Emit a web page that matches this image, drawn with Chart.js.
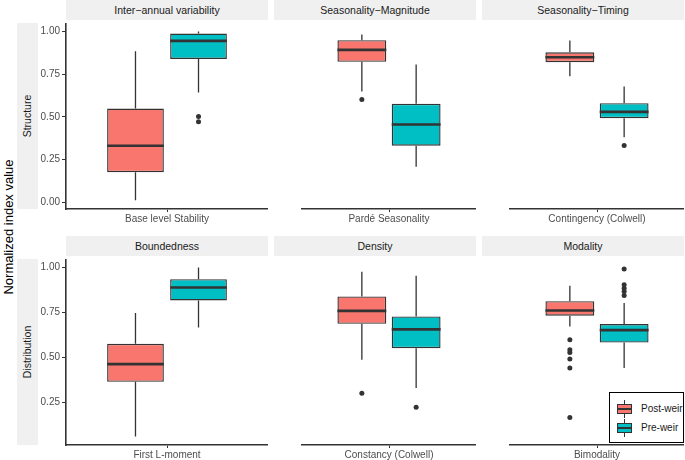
<!DOCTYPE html>
<html>
<head>
<meta charset="utf-8">
<script src="https://cdn.jsdelivr.net/npm/chart.js@4/dist/chart.umd.min.js"></script>
<style>
  html, body { margin: 0; padding: 0; background: #fff; }
  body { width: 685px; height: 460px; position: relative; overflow: hidden;
         font-family: 'Liberation Sans', Arial, sans-serif; }
  .abs { position: absolute; }
  .strip { position: absolute; background: #f0f0f0; color: #1a1a1a; font-size: 10.5px;
           display: flex; align-items: center; justify-content: center; white-space: nowrap; }
  .rstrip span { transform: rotate(-90deg); display: block; }
  canvas { position: absolute; }
  #ytitle { position: absolute; left: 8px; top: 227px; transform: translate(-50%, -50%) rotate(-90deg);
            font-size: 13px; color: #000; white-space: nowrap; }
  #legend { position: absolute; left: 609px; top: 392px; width: 73px; height: 49px;
            border: 1px solid #000; background: #fff; }
  .key { position: absolute; left: 7px; width: 15px; height: 18px; }
  .key .wh { position: absolute; left: 7px; width: 1px; top: 0; height: 18px; background: #333; }
  .key .bx { position: absolute; left: 0; top: 4px; width: 13px; height: 8px; border: 1px solid #333; }
  .key .md { position: absolute; left: 0; top: 8px; width: 15px; height: 2px; background: #333; }
  .ltxt { position: absolute; left: 31px; font-size: 10px; color: #1a1a1a; white-space: nowrap; }
</style>
</head>
<body>
<div id="ytitle">Normalized index value</div>
<div id="legend"></div>
<script>
// ---------------- data ----------------
const panelTitles = ['Inter\u2212annual variability', 'Seasonality\u2212Magnitude', 'Seasonality\u2212Timing',
                     'Boundedness', 'Density', 'Modality'];
const rowLabels = ['Structure', 'Distribution'];
const indexLabels = ['Base level Stability', 'Pard\u00e9 Seasonality', 'Contingency (Colwell)',
                     'First L-moment', 'Constancy (Colwell)', 'Bimodality'];
const seriesNames = ['Post-weir', 'Pre-weir'];
const seriesColors = ['#F8766D', '#00BFC4'];
// five-number summaries per panel: [lower whisker, Q1, median, Q3, upper whisker]
const postWeirStats = [
  [0.012, 0.176, 0.331, 0.549, 0.884],
  [0.649, 0.822, 0.892, 0.949, 0.982],
  [0.737, 0.820, 0.849, 0.878, 0.947],
  [0.061, 0.365, 0.463, 0.576, 0.747],
  [0.487, 0.687, 0.759, 0.839, 0.976],
  [0.672, 0.732, 0.761, 0.813, 0.898]
];
const preWeirStats = [
  [0.643, 0.839, 0.945, 0.988, 1.000],
  [0.208, 0.331, 0.455, 0.576, 0.806],
  [0.380, 0.492, 0.529, 0.580, 0.678],
  [0.667, 0.817, 0.889, 0.935, 1.000],
  [0.330, 0.552, 0.656, 0.728, 0.954],
  [0.441, 0.583, 0.652, 0.686, 0.802]
];
const postWeirOutliers = [[], [0.602], [], [], [0.302], [0.598, 0.543, 0.528, 0.491, 0.441, 0.167]];
const preWeirOutliers = [[0.502, 0.472], [], [0.333], [], [0.224], [0.991, 0.904, 0.885, 0.867, 0.844]];
const topRowTicks = [0, 0.25, 0.5, 0.75, 1.0];
const bottomRowTicks = [0.25, 0.5, 0.75, 1.0];
const rowYRange = [[-0.0395, 1.0495], [0.014, 1.047]];

// ---------------- layout ----------------
const panelLeft = [66, 274, 482];
const panelW = 202;
const rowTop = [23, 259];
const plotH = 186;
const stripTop = [0, 236];
const stripH = 20;
const yAxisW = 28;
const xAxisH = 22;
const FONT = "'Liberation Sans', Arial, sans-serif";

Chart.defaults.font.family = FONT;

const boxExtras = {
  id: 'boxExtras',
  afterDatasetsDraw(chart) {
    const ctx = chart.ctx;
    const ys = chart.scales.y;
    chart.data.datasets.forEach((ds, di) => {
      const meta = chart.getDatasetMeta(di);
      const bar = meta.data[0];
      if (!bar) return;
      const s = ds.stats;
      const x = bar.x;
      const half = bar.width / 2;
      ctx.save();
      ctx.strokeStyle = '#333333';
      ctx.lineWidth = 1.3;
      ctx.beginPath();
      ctx.moveTo(x, ys.getPixelForValue(s[3]));
      ctx.lineTo(x, ys.getPixelForValue(s[4]));
      ctx.moveTo(x, ys.getPixelForValue(s[1]));
      ctx.lineTo(x, ys.getPixelForValue(s[0]));
      ctx.stroke();
      ctx.lineWidth = 2.6;
      ctx.beginPath();
      const ym = ys.getPixelForValue(s[2]);
      ctx.moveTo(x - half, ym);
      ctx.lineTo(x + half, ym);
      ctx.stroke();
      ctx.fillStyle = '#333333';
      ds.outliers.forEach(v => {
        ctx.beginPath();
        ctx.arc(x, ys.getPixelForValue(v), 2.5, 0, Math.PI * 2);
        ctx.fill();
      });
      ctx.restore();
    });
  }
};

function addDiv(cls, left, top, w, h, html) {
  const d = document.createElement('div');
  d.className = cls;
  d.style.left = left + 'px'; d.style.top = top + 'px';
  d.style.width = w + 'px'; d.style.height = h + 'px';
  d.innerHTML = html;
  document.body.appendChild(d);
  return d;
}

// row strips
rowLabels.forEach((r, ri) => {
  addDiv('strip rstrip', 17, rowTop[ri], 21, plotH, '<span>' + r + '</span>');
});

for (let i = 0; i < 6; i++) {
  const row = Math.floor(i / 3), col = i % 3;
  const hasY = col === 0;
  addDiv('strip', panelLeft[col], stripTop[row], panelW, stripH, panelTitles[i]);

  const cv = document.createElement('canvas');
  const cLeft = hasY ? panelLeft[col] - yAxisW : panelLeft[col];
  const cW = hasY ? panelW + yAxisW : panelW;
  const cH = plotH + xAxisH;
  cv.width = cW; cv.height = cH;
  cv.style.left = cLeft + 'px'; cv.style.top = rowTop[row] + 'px';
  cv.style.width = cW + 'px'; cv.style.height = cH + 'px';
  document.body.appendChild(cv);

  const ticks = row === 0 ? topRowTicks : bottomRowTicks;
  const statsSets = [postWeirStats[i], preWeirStats[i]];
  const outSets = [postWeirOutliers[i], preWeirOutliers[i]];

  new Chart(cv, {
    type: 'bar',
    data: {
      labels: [indexLabels[i]],
      datasets: seriesNames.map((name, si) => ({
        label: name,
        data: [[statsSets[si][1], statsSets[si][3]]],
        stats: statsSets[si],
        outliers: outSets[si],
        backgroundColor: seriesColors[si],
        borderColor: '#333333',
        borderWidth: 1.4,
        borderSkipped: false,
        categoryPercentage: 0.624,
        barPercentage: 0.9
      }))
    },
    options: {
      responsive: false,
      animation: false,
      devicePixelRatio: 1,
      layout: { padding: 0 },
      plugins: { legend: { display: false }, tooltip: { enabled: false }, title: { display: false } },
      scales: {
        x: {
          type: 'category',
          offset: true,
          grid: { display: true, offset: false, drawOnChartArea: false, drawTicks: true,
                  tickLength: 3, tickColor: '#333333', tickWidth: 1 },
          border: { display: true, color: '#333333', width: 1.6 },
          ticks: { color: '#4d4d4d', font: { size: 10, family: FONT }, padding: 1, maxRotation: 0, autoSkip: false },
          afterFit(s) { s.height = xAxisH; s.paddingLeft = 0; s.paddingRight = 0; }
        },
        y: {
          display: hasY,
          min: rowYRange[row][0],
          max: rowYRange[row][1],
          grid: { display: true, drawOnChartArea: false, drawTicks: true,
                  tickLength: 4, tickColor: '#333333', tickWidth: 1 },
          border: { display: true, color: '#333333', width: 1.6 },
          ticks: { color: '#4d4d4d', font: { size: 10, family: FONT }, padding: 2,
                   callback: (v) => Number(v).toFixed(2) },
          afterBuildTicks(s) { s.ticks = ticks.map(v => ({ value: v })); },
          afterFit(s) { s.width = yAxisW; s.paddingTop = 0; s.paddingBottom = 0; }
        }
      }
    },
    plugins: [boxExtras]
  });
}

// legend
const lg = document.getElementById('legend');
seriesNames.forEach((name, si) => {
  const top = si === 0 ? 7 : 26;
  const k = document.createElement('div');
  k.className = 'key';
  k.style.top = top + 'px';
  k.innerHTML = '<div class="wh"></div><div class="bx" style="background:' + seriesColors[si] +
                '"></div><div class="md"></div>';
  lg.appendChild(k);
  const t = document.createElement('div');
  t.className = 'ltxt';
  t.style.top = (top + 3) + 'px';
  t.textContent = name;
  lg.appendChild(t);
});
</script>
</body>
</html>
